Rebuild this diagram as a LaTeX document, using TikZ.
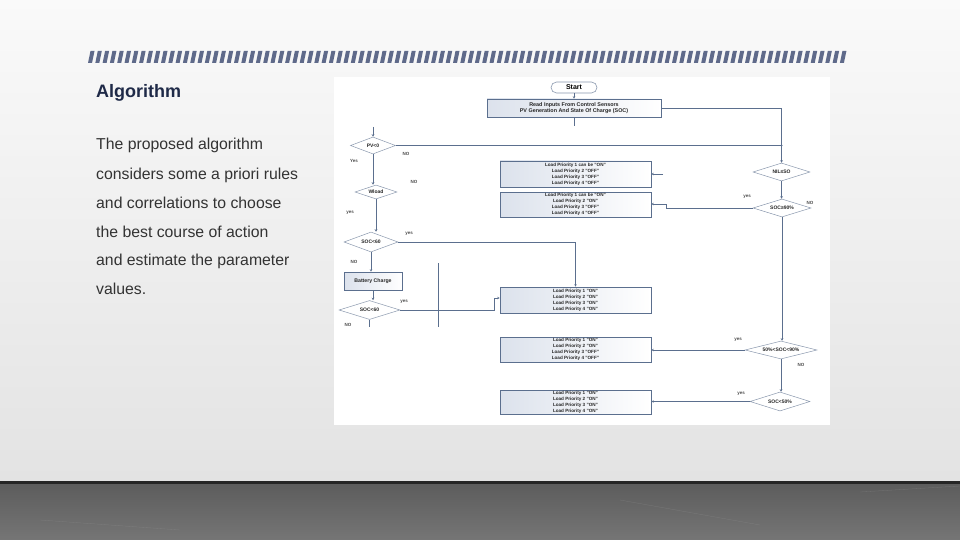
\documentclass[tikz,border=0pt]{standalone}
\usepackage{fontspec}
\setmainfont{Liberation Sans}
\usetikzlibrary{shapes.geometric,arrows.meta}
\definecolor{navy}{HTML}{1F2A48}
\definecolor{bodytxt}{HTML}{333333}
\definecolor{stripe}{HTML}{5F6A8A}
\definecolor{fline}{HTML}{5B6F8E}
\definecolor{boxfill}{HTML}{DCE2EC}
\definecolor{dborder}{HTML}{8A98AE}
\begin{document}
\begin{tikzpicture}[x=1pt,y=-1pt,
  body/.style={anchor=base west, font=\fontsize{15.8}{18}\selectfont, text=bodytxt, inner sep=0},
  fbox/.style={draw=fline, line width=0.6pt, left color=boxfill, right color=white, minimum width=151pt, inner sep=0, align=center, font=\fontsize{4.6}{5.9}\selectfont\bfseries, text=black!85},
  dec/.style={diamond, aspect=3.4, draw=dborder, line width=0.5pt, fill=white, inner sep=0, font=\fontsize{5}{6}\selectfont\bfseries, text=black!85},
  conn/.style={draw=fline, line width=0.7pt},
  arr/.style={conn, -{Stealth[length=2.5pt,width=2.5pt]}},
  lbl/.style={font=\fontsize{4.5}{5}\selectfont\bfseries, text=black!70, inner sep=0},
]
\useasboundingbox (0,0) rectangle (960,540);
% slide background
\shade[top color=white!96!gray, bottom color=black!11] (0,0) rectangle (960,482);
\shade[top color=black!64, bottom color=black!54] (0,482) rectangle (960,540);
\fill[black!85] (0,481) rectangle (960,483.5);
\draw[black!40, line width=0.3pt, opacity=0.35] (40,520) -- (180,530) (620,500) -- (760,525) (860,492) -- (960,486);
% stripe bar
\foreach \i in {0,...,103}{
  \fill[stripe] ({88+7.3*\i},63) -- ({92+7.3*\i},63) -- ({94.5+7.3*\i},51) -- ({90.5+7.3*\i},51) -- cycle;
}
% left text
\node[anchor=base west, font=\fontsize{18}{20}\selectfont\bfseries, text=navy, inner sep=0] (title) at (96,97.5) {Algorithm};
\node[body] (b1) at (96,150) {The proposed algorithm};
\node[body] (b2) at (96,179) {considers some a priori rules};
\node[body] (b3) at (96,208) {and correlations to choose};
\node[body] (b4) at (96,237) {the best course of action};
\node[body] (b5) at (96,265) {and estimate the parameter};
\node[body] (b6) at (96,294) {values.};
% flowchart panel
\fill[white] (334,77) rectangle (830,425);
% nodes
\node[draw=dborder, line width=0.6pt, rounded corners=5.5pt, minimum width=46pt, minimum height=11pt, inner sep=0, font=\fontsize{7}{8}\selectfont\bfseries] (start) at (574,87.5) {Start};
\node[fbox, minimum width=174pt, minimum height=18pt, font=\fontsize{5.4}{6.6}\selectfont\bfseries] (read) at (574,108) {Read Inputs From Control Sensors\\PV Generation And State Of Charge (SOC)};
\node[dec, minimum width=45pt, minimum height=17pt] (pv) at (373,145.5) {PV<0};
\node[dec, minimum width=42pt, minimum height=14pt] (wload) at (376,192) {Wload};
\node[dec, minimum width=54pt, minimum height=20pt] (soca) at (371,242) {SOC<60};
\node[fbox, minimum width=58pt, minimum height=18pt, font=\fontsize{5.2}{6}\selectfont\bfseries] (batt) at (373,281) {Battery Charge};
\node[dec, minimum width=61pt, minimum height=19pt] (socb) at (369.5,310) {SOC<60};
\node[dec, minimum width=57pt, minimum height=18pt] (nil) at (781.5,172) {NIL≤SO};
\node[dec, minimum width=58pt, minimum height=18pt] (soch) at (782,208) {SOC≥90\%};
\node[dec, minimum width=72pt, minimum height=18pt] (socm) at (781,350) {50\%<SOC<90\%};
\node[dec, minimum width=60pt, minimum height=19pt] (socl) at (780,401.5) {SOC<50\%};
\node[fbox, minimum height=26pt] (bx1) at (575.5,174) {Load Priority 1 can be "ON"\\Load Priority 2 "OFF"\\Load Priority 3 "OFF"\\Load Priority 4 "OFF"};
\node[fbox, minimum height=25pt] (bx2) at (575.5,204.5) {Load Priority 1 can be "ON"\\Load Priority 2 "ON"\\Load Priority 3 "OFF"\\Load Priority 4 "OFF"};
\node[fbox, minimum height=26pt] (bx3) at (575.5,300) {Load Priority 1 "ON"\\Load Priority 2 "ON"\\Load Priority 3 "ON"\\Load Priority 4 "ON"};
\node[fbox, minimum height=25pt] (bx4) at (575.5,349.5) {Load Priority 1 "ON"\\Load Priority 2 "ON"\\Load Priority 3 "OFF"\\Load Priority 4 "OFF"};
\node[fbox, minimum height=24pt] (bx5) at (575.5,402) {Load Priority 1 "ON"\\Load Priority 2 "ON"\\Load Priority 3 "ON"\\Load Priority 4 "ON"};
% free coordinates
\coordinate (readend) at (574,126);
\coordinate (pvin) at (373,127);
\coordinate (nilstub) at (663,174);
\coordinate (socbend) at (369.5,327);
\coordinate (orphtop) at (438,263);
\coordinate (orphbot) at (438,327);
% connectors
\draw[arr] (start) -- (read);
\draw[arr] (read.east) -| (nil.north);
\draw[conn] (read.south) -- (readend);
\draw[arr] (pvin) -- (pv.north);
\draw[conn] (pv.east) -- (781.5,145.5);
\fill[fline] (781.5,145.5) circle (1.1pt);
\draw[arr] (pv.south) -- (pv.south |- wload.north);
\draw[arr] (wload.south) -- (wload.south |- soca.north);
\draw[arr] (soca.east) -| (bx3.north);
\draw[arr] (soca.south) -- (soca.south |- batt.north);
\draw[arr] (batt.south) -- (batt.south |- socb.north);
\draw[arr] (socb.east) -- (494,310) -- (494,298) -- (bx3.west |- 0,298);
\draw[conn] (socb.south) -- (socbend);
\draw[conn] (orphtop) -- (orphbot);
\draw[arr] (nilstub) -- (bx1.east);
\draw[arr] (nil.south) -- (nil.south |- soch.north);
\draw[arr] (soch.west) -- (666,208) -- (666,204) -- (bx2.east |- 0,204);
\draw[arr] (soch.south) -- (soch.south |- socm.north);
\draw[arr] (socm.west) -- (bx4.east |- socm.west);
\draw[arr] (socm.south) -- (socm.south |- socl.north);
\draw[arr] (socl.west) -- (bx5.east |- socl.west);
% labels
\node[lbl] (l1) at (406,154) {NO};
\node[lbl] (l2) at (354,161) {Yes};
\node[lbl] (l3) at (414,182) {NO};
\node[lbl] (l4) at (350,212.5) {yes};
\node[lbl] (l5) at (409,234) {yes};
\node[lbl] (l6) at (354,262) {NO};
\node[lbl] (l7) at (404,302) {yes};
\node[lbl] (l8) at (348,325) {NO};
\node[lbl] (l9) at (747,197) {yes};
\node[lbl] (l10) at (810,203) {NO};
\node[lbl] (l11) at (738,340) {yes};
\node[lbl] (l12) at (801,365) {NO};
\node[lbl] (l13) at (741,394) {yes};
\end{tikzpicture}
\end{document}
